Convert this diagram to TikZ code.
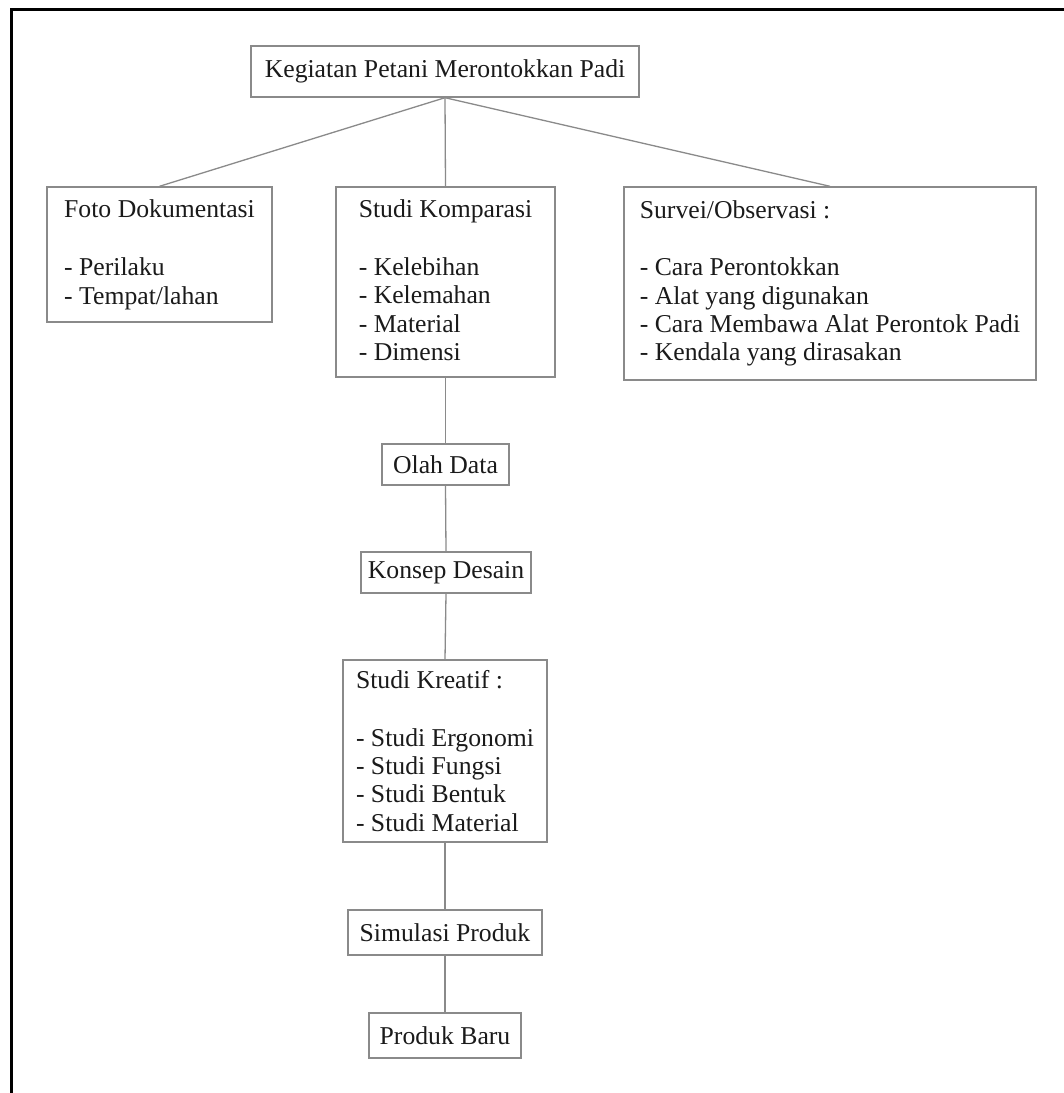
\documentclass[tikz,border=0pt]{standalone}
\usepackage{fontspec}
\setmainfont{Liberation Serif}
\definecolor{boxline}{HTML}{8A8A8A}
\definecolor{txt}{HTML}{1A1A1A}
\tikzset{
  box/.style={draw=boxline, line width=1.4pt, rectangle, align=left, inner sep=0pt, text=txt,
    font=\fontsize{25.7pt}{28.4pt}\selectfont},
  conn/.style={draw=boxline, line width=1.3pt},
  frame/.style={draw=black, line width=3pt}
}
\begin{document}
\begin{tikzpicture}[x=1pt,y=-1pt]
\useasboundingbox (0,0) rectangle (1064,1093);
\draw[frame] (11.3,1094) -- (11.3,9.3) -- (1064,9.3);

\node[box, minimum width=388pt, minimum height=51pt] (top) at (445,71.5) {Kegiatan Petani Merontokkan Padi};
\node[box, minimum width=225pt, minimum height=135pt] (foto) at (159.5,254.5)
  {Foto Dokumentasi\\[30pt]- Perilaku\\- Tempat/lahan};
\node[box, minimum width=219pt, minimum height=190pt] (komp) at (445.5,282)
  {Studi Komparasi\\[30pt]- Kelebihan\\- Kelemahan\\- Material\\- Dimensi\rule[-4pt]{0pt}{4pt}};
\node[box, minimum width=412pt, minimum height=193pt] (surv) at (830,283.5)
  {Survei/Observasi :\\[29pt]- Cara Perontokkan\\- Alat yang digunakan\\- Cara Membawa Alat Perontok Padi\\- Kendala yang dirasakan};
\node[box, minimum width=127pt, minimum height=41pt] (olah) at (445.5,464.5) {Olah Data};
\node[box, minimum width=170pt, minimum height=41pt] (konsep) at (446,572.5) {Konsep Desain};
\node[box, minimum width=204pt, minimum height=182pt] (kreatif) at (445,751)
  {Studi Kreatif :\\[29pt]- Studi Ergonomi\\- Studi Fungsi\\- Studi Bentuk\\- Studi Material};
\node[box, minimum width=194pt, minimum height=45pt] (sim) at (445,932.5) {Simulasi Produk};
\node[box, minimum width=152pt, minimum height=45pt] (baru) at (445,1035.5) {Produk Baru};

\draw[conn] (top.south) -- (foto.north);
\draw[conn] (top.south) -- (komp.north);
\draw[conn] (top.south) -- (surv.north);
\draw[conn] (komp.south) -- (olah.north);
\draw[conn] (olah.south) -- (konsep.north);
\draw[conn] (konsep.south) -- (kreatif.north);
\draw[conn] (kreatif.south) -- (sim.north);
\draw[conn] (sim.south) -- (baru.north);
\end{tikzpicture}
\end{document}
